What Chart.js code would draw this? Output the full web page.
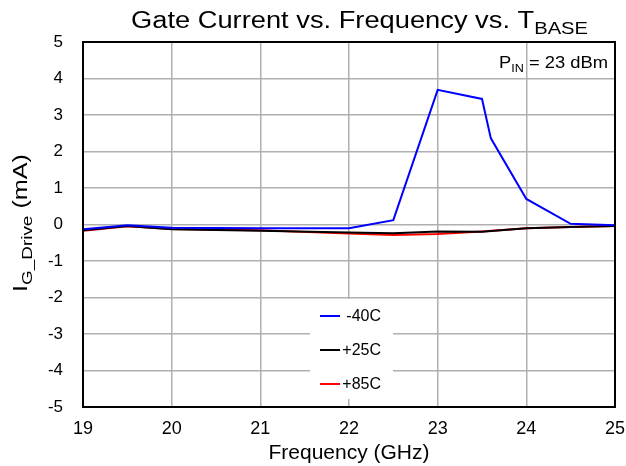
<!DOCTYPE html>
<html><head><meta charset="utf-8">
<script src="https://cdn.jsdelivr.net/npm/chart.js@4.4.0/dist/chart.umd.min.js"></script>
<style>html,body{margin:0;padding:0;background:#fff}#wrap{width:626px;height:466px}</style>
</head><body><div id="wrap"><canvas id="c" width="626" height="466"></canvas></div>
<script>
const freqBlue = [19, 19.5, 20, 21, 22, 22.5, 23, 23.5, 23.6, 24, 24.5, 25];
const valBlue  = [-0.13, -0.02, -0.09, -0.1, -0.1, 0.12, 3.69, 3.44, 2.36, 0.70, 0.02, -0.02];
const freqT = [19, 19.5, 20, 21, 22, 22.5, 23, 23.5, 24, 24.5, 25];
const val25 = [-0.16, -0.04, -0.13, -0.17, -0.22, -0.24, -0.19, -0.2, -0.1, -0.07, -0.04];
const val85 = [-0.17, -0.05, -0.12, -0.16, -0.25, -0.29, -0.26, -0.19, -0.1, -0.07, -0.04];
const seriesLabels = ['-40C', '+25C', '+85C'];
const seriesColors = ['#0000ff', '#000000', '#ff0000'];
const xTicks = [19, 20, 21, 22, 23, 24, 25];
const yTicks = [-5, -4, -3, -2, -1, 0, 1, 2, 3, 4, 5];

const FONT = '"Liberation Sans", Arial, sans-serif';
const toPts = (xs, ys) => xs.map((x, i) => ({x, y: ys[i]}));

function drawParts(ctx, parts, x0, y0, targetW) {
  let total = 0;
  const ws = parts.map(p => { ctx.font = p[1] + 'px ' + FONT; const w = ctx.measureText(p[0]).width; total += w; return w; });
  const k = targetW ? targetW / total : 1;
  ctx.save();
  ctx.translate(x0, y0);
  ctx.scale(k, 1);
  let x = 0;
  parts.forEach((p, i) => {
    ctx.font = p[1] + 'px ' + FONT;
    ctx.fillText(p[0], x, p[2]);
    x += ws[i];
  });
  ctx.restore();
}

const extras = {
  id: 'extras',
  afterDraw(chart) {
    const ctx = chart.ctx;
    const a = chart.chartArea;
    ctx.save();
    ctx.strokeStyle = '#000'; ctx.lineWidth = 2;
    ctx.strokeRect(a.left, a.top, a.right - a.left, a.bottom - a.top);
    ctx.fillStyle = '#000';
    ctx.textBaseline = 'alphabetic';
    ctx.textAlign = 'left';
    drawParts(ctx, [['Gate Current vs. Frequency vs. T', 23, 0], ['BASE', 17, 6]], 131, 28, 457);
    drawParts(ctx, [['P', 16, 0], ['IN', 11, 4], [' = 23 dBm', 16, 0]], 499, 68, 109);
    ctx.save();
    ctx.translate(27, 292);
    ctx.rotate(-Math.PI / 2);
    drawParts(ctx, [['I', 20, 0], ['G_Drive', 15, 5], [' (mA)', 20, 0]], 0, 0, 138);
    ctx.restore();
    ctx.fillStyle = '#fff';
    ctx.fillRect(310, 299, 83, 100);
    ctx.font = '16px ' + FONT;
    ctx.textAlign = 'right';
    ctx.textBaseline = 'middle';
    const ys = [316, 350, 384];
    chart.data.datasets.forEach((ds, i) => {
      ctx.strokeStyle = ds.borderColor; ctx.lineWidth = 2;
      ctx.beginPath(); ctx.moveTo(320, ys[i]); ctx.lineTo(340, ys[i]); ctx.stroke();
      ctx.fillStyle = '#000';
      ctx.fillText(ds.label, 381, ys[i] + 1);
    });
    ctx.restore();
  }
};

new Chart(document.getElementById('c'), {
  type: 'line',
  data: {
    datasets: [
      {label: seriesLabels[0], data: toPts(freqBlue, valBlue), borderColor: seriesColors[0]},
      {label: seriesLabels[1], data: toPts(freqT, val25), borderColor: seriesColors[1]},
      {label: seriesLabels[2], data: toPts(freqT, val85), borderColor: seriesColors[2]}
    ]
  },
  options: {
    responsive: false,
    animation: false,
    layout: {padding: {left: 0, right: 11, top: 42, bottom: 0}},
    elements: {point: {radius: 0}, line: {borderWidth: 2, tension: 0}},
    plugins: {legend: {display: false}, title: {display: false}, tooltip: {enabled: false}},
    scales: {
      x: {
        type: 'linear', min: 19, max: 25,
        afterBuildTicks: s => { s.ticks = xTicks.map(v => ({value: v})); },
        afterFit: s => { s.height = 59; s.paddingLeft = 0; s.paddingRight = 0; },
        grid: {color: '#b0b0b0', lineWidth: 1.5, drawTicks: false},
        border: {display: false},
        ticks: {color: '#000', font: {family: FONT, size: 18}, padding: 11, maxRotation: 0},
        title: {display: true, text: 'Frequency (GHz)', color: '#000', font: {family: FONT, size: 21}, padding: {top: 0, bottom: 0}}
      },
      y: {
        min: -5, max: 5,
        afterBuildTicks: s => { s.ticks = yTicks.map(v => ({value: v})); },
        afterFit: s => { s.width = 83; s.paddingTop = 0; s.paddingBottom = 0; },
        grid: {color: '#b0b0b0', lineWidth: 1.5, drawTicks: false},
        border: {display: false},
        ticks: {color: '#000', font: {family: FONT, size: 17}, padding: 20}
      }
    }
  },
  plugins: [extras]
});
</script></body></html>
